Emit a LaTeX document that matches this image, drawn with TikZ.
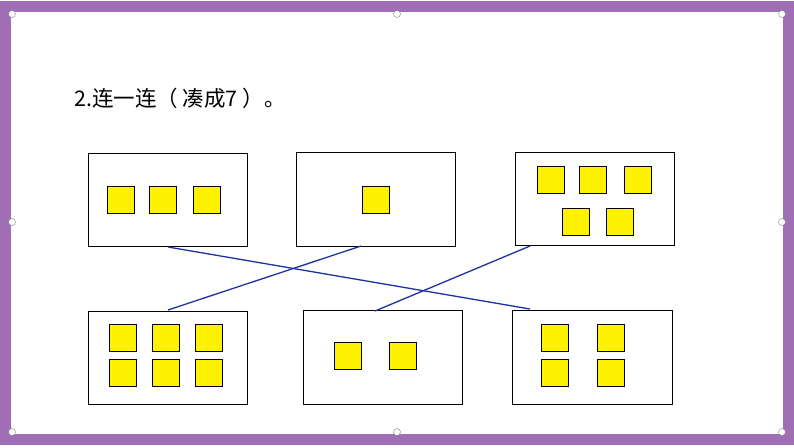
\documentclass[tikz,border=0pt]{standalone}
\usepackage{fontspec}
\setmainfont{Noto Sans CJK SC}
\begin{document}
\begin{tikzpicture}[x=1pt,y=-1pt,
  bx/.style={draw=black,line width=0.8pt,fill=white},
  sq/.style={draw=black,line width=0.6pt,fill=yellow,minimum size=27pt,inner sep=0pt},
  ln/.style={draw={rgb,255:red,30;green,50;blue,160},line width=1.3pt},
  hd/.style={circle,draw=gray,fill=white,line width=0.4pt,minimum size=7pt,inner sep=0pt}]
\useasboundingbox (0,0) rectangle (794,447);
\fill[white] (0,0) rectangle (794,447);
\draw[line width=11pt,draw={rgb,255:red,160;green,110;blue,180}] (5.5,6.5) rectangle (788.5,439.5);
\foreach \p/\n in {{(12,14)}/h1,{(397,14)}/h2,{(782,14)}/h3,{(12,222)}/h4,{(782,222)}/h5,{(12,432)}/h6,{(397,432)}/h7,{(782,432)}/h8}
  \node[hd] (\n) at \p {};
\node[anchor=west,font=\fontsize{21.5pt}{24pt}\selectfont,inner sep=0pt] (title) at (74,98) {2.连一连（ 凑成7 ）。};
% boxes
\draw[bx] (88,153) rectangle (247,246); \coordinate (A1) at (168,247);
\draw[bx] (296,152) rectangle (455,246); \coordinate (A2) at (361,246);
\draw[bx] (515,152) rectangle (674,245); \coordinate (A3) at (530,246);
\draw[bx] (88,311) rectangle (247,404); \coordinate (B1) at (168,310);
\draw[bx] (303,310) rectangle (462,404); \coordinate (B2) at (375,311);
\draw[bx] (512,310) rectangle (672,404); \coordinate (B3) at (530,309);
% squares
\foreach \x in {121,163,207} \node[sq] at (\x,200) {};
\node[sq] at (376,200) {};
\foreach \x in {551,593,638} \node[sq] at (\x,180) {};
\foreach \x in {576,620} \node[sq] at (\x,222) {};
\foreach \x in {123,166,209} \foreach \y in {338,373} \node[sq] at (\x,\y) {};
\foreach \x in {348,403} \node[sq] at (\x,356) {};
\foreach \x in {555,611} \foreach \y in {338,373} \node[sq] at (\x,\y) {};
% lines
\draw[ln] (A1) -- (B3);
\draw[ln] (A2) -- (B1);
\draw[ln] (A3) -- (B2);
\end{tikzpicture}
\end{document}
